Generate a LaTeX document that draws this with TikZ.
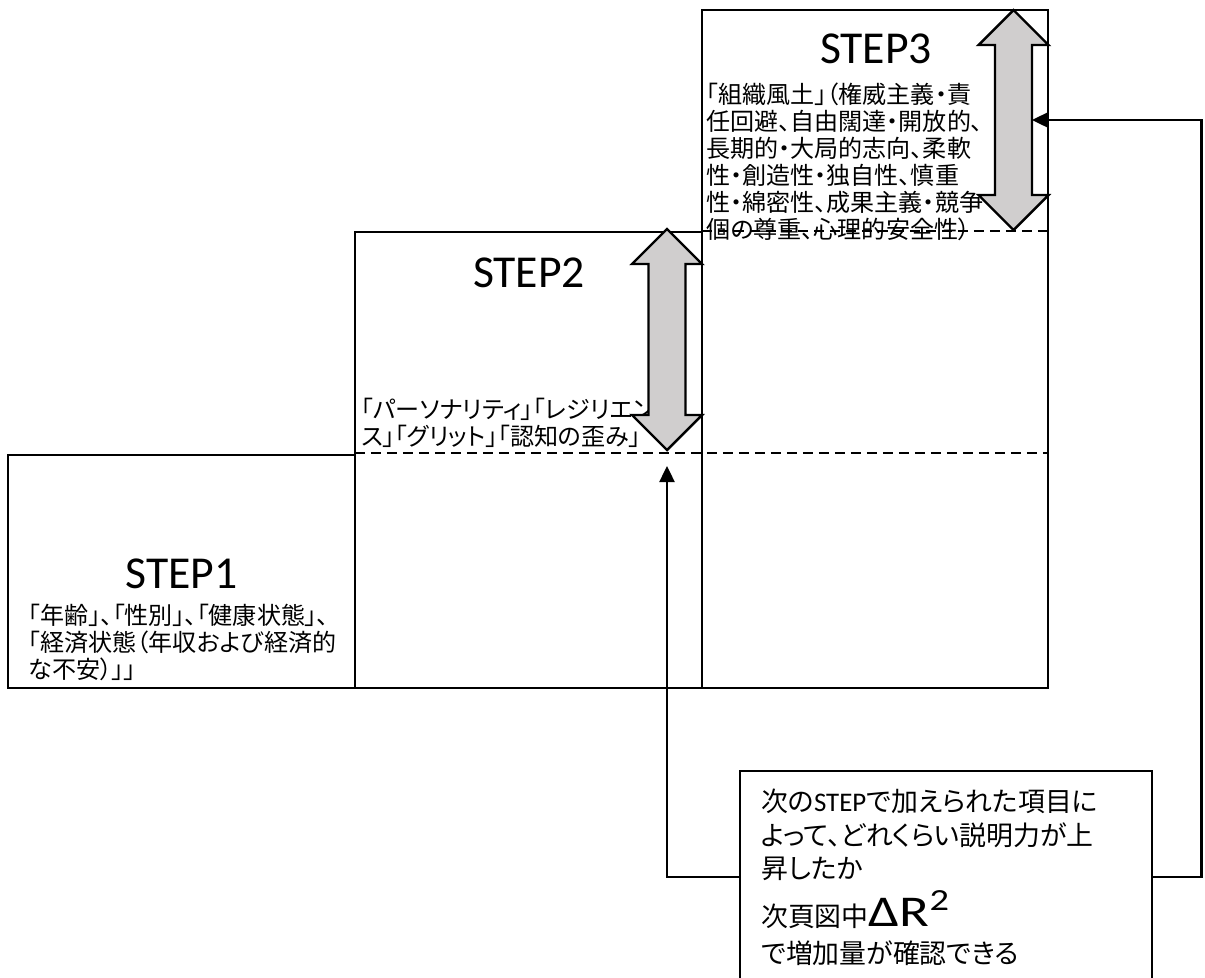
\documentclass[tikz,border=0pt]{standalone}
\usepackage{fontspec}
\setmainfont{Carlito}
\newfontfamily\jp{Noto Sans CJK JP}[RawFeature=+palt]
\newfontfamily\largo{Carlito}[FakeStretch=1.25]
\usepackage{tikz}
\usetikzlibrary{arrows.meta}

\definecolor{grigio}{RGB}{208,206,206}
\newcommand{\testo}{\jp\fontsize{13.7pt}{15.3pt}\selectfont}
\newcommand{\testonota}{\jp\fontsize{15.3pt}{19.3pt}\selectfont}
% freccia doppia: centro x, punta alta, punta bassa, nome
\newcommand{\frecciadoppia}[4]{%
    \draw[bloccofreccia] (#1,#2) -- (#1+35,#2+35) -- (#1+18.5,#2+35) -- (#1+18.5,#3-35) -- (#1+35,#3-35) -- (#1,#3)
        -- (#1-35,#3-35) -- (#1-18.5,#3-35) -- (#1-18.5,#2+35) -- (#1-35,#2+35) -- cycle;
    \coordinate (#4-giu) at (#1,#3+16);
    \coordinate (#4-dx) at (#1+18.5,{(#2+#3)/2});
}

\begin{document}
\begin{tikzpicture}[x=0.02cm, y=-0.02cm,
    linea/.style={line width=1.4pt},
    tratteggio/.style={line width=1.4pt, dash pattern=on 2mm off 1.2mm},
    titolo/.style={font=\fontsize{26pt}{30pt}\selectfont, anchor=base, inner sep=0pt},
    voce/.style={font=\testo, align=left, anchor=north west, inner sep=0pt},
    bloccofreccia/.style={line width=1.4pt, fill=grigio},
    collegamento/.style={line width=1.4pt, -{Triangle[length=3.2mm, width=3mm]}},
    nota/.style={draw, line width=1.4pt, font=\testonota, align=left, text width=7.4cm,
        inner xsep=0.42cm, minimum width=8.24cm, minimum height=4.24cm}]

    \clip (0,0) rectangle (1205,978);

    % i tre gradini
    \draw[linea] (8,455) rectangle (355,688);
    \draw[linea] (355,232) rectangle (702,688);
    \draw[linea] (702,10) rectangle (1048,688);

    \node[titolo] (t1) at (181.5,588) {STEP1};
    \node[titolo] (t2) at (529,287) {STEP2};
    \node[titolo] (t3) at (876,63) {STEP3};

    \node[voce] (v1) at (28,604) {「年齢」、「性別」、「健康状態」、\\「経済状態（年収および経済的\\な不安）」」};
    \node[voce] (v2) at (361,398) {「パーソナリティ」「レジリエン\\ス」「グリット」「認知の歪み」};
    \node[voce] (v3) at (706,83) {「組織風土」（権威主義・責\\任回避、自由闊達・開放的、\\長期的・大局的志向、柔軟\\性・創造性・独自性、慎重\\性・綿密性、成果主義・競争\\個の尊重、心理的安全性）};

    \draw[tratteggio] (355,453) -- (1048,453);
    \draw[tratteggio] (702,231) -- (1048,231);

    \frecciadoppia{667}{229}{450}{s2}
    \frecciadoppia{1013.5}{10}{230}{s3}

    \node[nota, anchor=north west] (nota) at (739,770) {次の{\rmfamily STEP}で加えられた項目に\\よって、どれくらい説明力が上\\昇したか\\[1.6mm]次頁図中{\largo\fontsize{25pt}{27pt}\selectfont ΔR\textsuperscript{2}}\\[0.6mm]で増加量が確認できる};

    \draw[collegamento] (nota.west) -| (s2-giu);
    \draw[collegamento] (nota.east) -- ++(48,0) |- (s3-dx);

\end{tikzpicture}
\end{document}
